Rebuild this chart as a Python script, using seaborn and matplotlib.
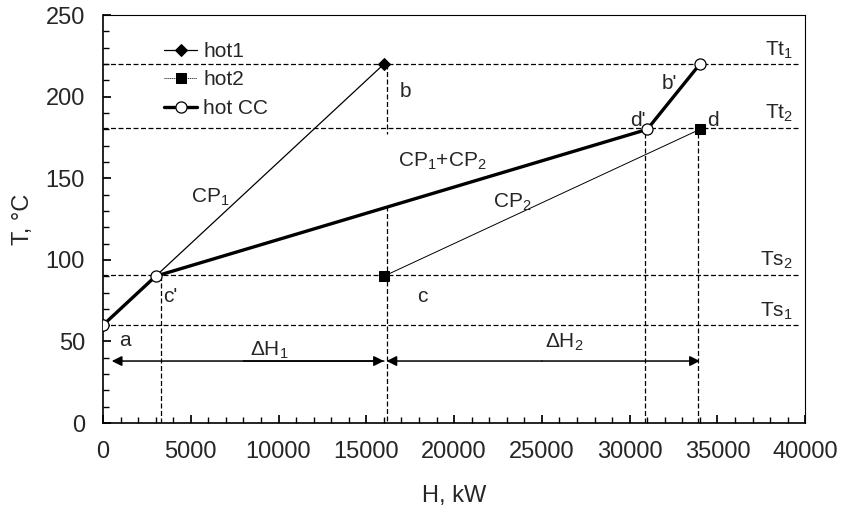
import matplotlib
matplotlib.use("Agg")
import matplotlib.pyplot as plt
import seaborn as sns
import pandas as pd

# ---- data ----
hot1_H = [0, 16000]
hot1_T = [60, 220]
hot2_H = [16000, 34000]
hot2_T = [90, 180]
cc_H = [0, 3000, 31000, 34000]
cc_T = [60, 90, 180, 220]

target_levels = {"Tt$_1$": 220, "Tt$_2$": 181, "Ts$_2$": 91, "Ts$_1$": 60}
vlines_H = [3300, 30900, 33900]
arrow_T = 38

x_ticks = [0, 5000, 10000, 15000, 20000, 25000, 30000, 35000, 40000]
y_ticks = [0, 50, 100, 150, 200, 250]

sns.set_theme(style="ticks")
plt.rcParams['font.family'] = ['Liberation Sans', 'DejaVu Sans']
plt.rcParams['mathtext.fontset'] = 'custom'
plt.rcParams['mathtext.rm'] = 'Liberation Sans'
plt.rcParams['mathtext.it'] = 'Liberation Sans'

fig = plt.figure(figsize=(8.42, 5.13), dpi=100)
ax = fig.add_axes([0.1223, 0.1754, 0.834, 0.795])

df1 = pd.DataFrame({"H": hot1_H, "T": hot1_T})
df2 = pd.DataFrame({"H": hot2_H, "T": hot2_T})
dfc = pd.DataFrame({"H": cc_H, "T": cc_T})

sns.lineplot(data=df1, x="H", y="T", ax=ax, color="black", lw=0.9,
             marker="D", markersize=6, markeredgecolor="black", sort=False,
             label="hot1", zorder=3)
sns.lineplot(data=df2, x="H", y="T", ax=ax, color="black", lw=0.7,
             marker="s", markersize=7, markeredgecolor="black", sort=False,
             label="hot2", zorder=3)
sns.lineplot(data=dfc, x="H", y="T", ax=ax, color="black", lw=2.4,
             marker="o", markersize=8, markerfacecolor="white",
             markeredgecolor="black", markeredgewidth=0.9, sort=False,
             label="hot CC", zorder=4)

dash = (0, (4, 2))
# horizontal dashed level lines
for name, t in target_levels.items():
    ax.plot([0, 39700], [t, t], color="black", lw=0.9, ls=dash, zorder=1)
    ax.text(39300, t + 2, name, ha="right", va="bottom", fontsize=15)

# vertical dashed lines
for h in vlines_H:
    ax.plot([h, h], [0, 180 if h > 10000 else 90], color="black", lw=0.9,
            ls=dash, zorder=1)
ax.plot([16200, 16200], [220, 177], color="black", lw=0.9, ls=dash, zorder=1)
ax.plot([16200, 16200], [133, 0], color="black", lw=0.9, ls=dash, zorder=1)

# delta H arrows
ap = dict(arrowstyle="-|>", color="black", lw=1.1, mutation_scale=15,
          shrinkA=0, shrinkB=0)
ax.annotate("", xy=(500, arrow_T), xytext=(hot1_H[1], arrow_T), arrowprops=ap)
ax.annotate("", xy=(hot1_H[1], arrow_T), xytext=(8000, arrow_T), arrowprops=ap)
ax.annotate("", xy=(hot2_H[0] + 150, arrow_T), xytext=(25000, arrow_T), arrowprops=ap)
ax.annotate("", xy=(hot2_H[1], arrow_T), xytext=(25000, arrow_T), arrowprops=ap)

# point labels
fs = 15
ax.text(900, 47, "a", fontsize=fs)
ax.text(16900, 200, "b", fontsize=fs)
ax.text(3400, 74, "c'", fontsize=fs)
ax.text(17900, 74, "c", fontsize=fs)
ax.text(30000, 182, "d'", fontsize=fs)
ax.text(34400, 182, "d", fontsize=fs)
ax.text(31800, 205, "b'", fontsize=fs)
ax.text(5000, 135, "CP$_1$", fontsize=fs)
ax.text(16800, 157, "CP$_1$+CP$_2$", fontsize=fs)
ax.text(22200, 132, "CP$_2$", fontsize=fs)
ax.text(8400, 41, "ΔH$_1$", fontsize=fs)
ax.text(25200, 46, "ΔH$_2$", fontsize=fs)

ax.set_xlim(0, 40000)
ax.set_ylim(0, 250)
ax.set_xticks(x_ticks)
ax.set_yticks(y_ticks)
ax.set_xticks(range(0, 40001, 1000), minor=True)
ax.set_yticks(range(0, 251, 10), minor=True)
ax.tick_params(axis="both", which="both", direction="in", labelsize=17, color="black")
ax.tick_params(axis="both", which="major", length=6, pad=13)
ax.tick_params(axis="both", which="minor", length=4)
ax.set_xlabel("H, kW", fontsize=17, labelpad=16)
ax.set_ylabel("T, °C", fontsize=17, labelpad=8)

for s in ["left", "bottom"]:
    ax.spines[s].set_linewidth(1.2)
    ax.spines[s].set_color("black")
for s in ["top", "right"]:
    ax.spines[s].set_visible(True)
    ax.spines[s].set_linewidth(0.8)
    ax.spines[s].set_linestyle((0, (2, 1)))
    ax.spines[s].set_color("black")

leg = ax.legend(loc="upper left", bbox_to_anchor=(0.06, 0.98), frameon=False,
                fontsize=15, handlelength=1.6, labelspacing=0.45, handletextpad=0.3)
leg.get_lines()[1].set_linestyle((0, (1, 1)))

fig.savefig("out.png", dpi=100)
